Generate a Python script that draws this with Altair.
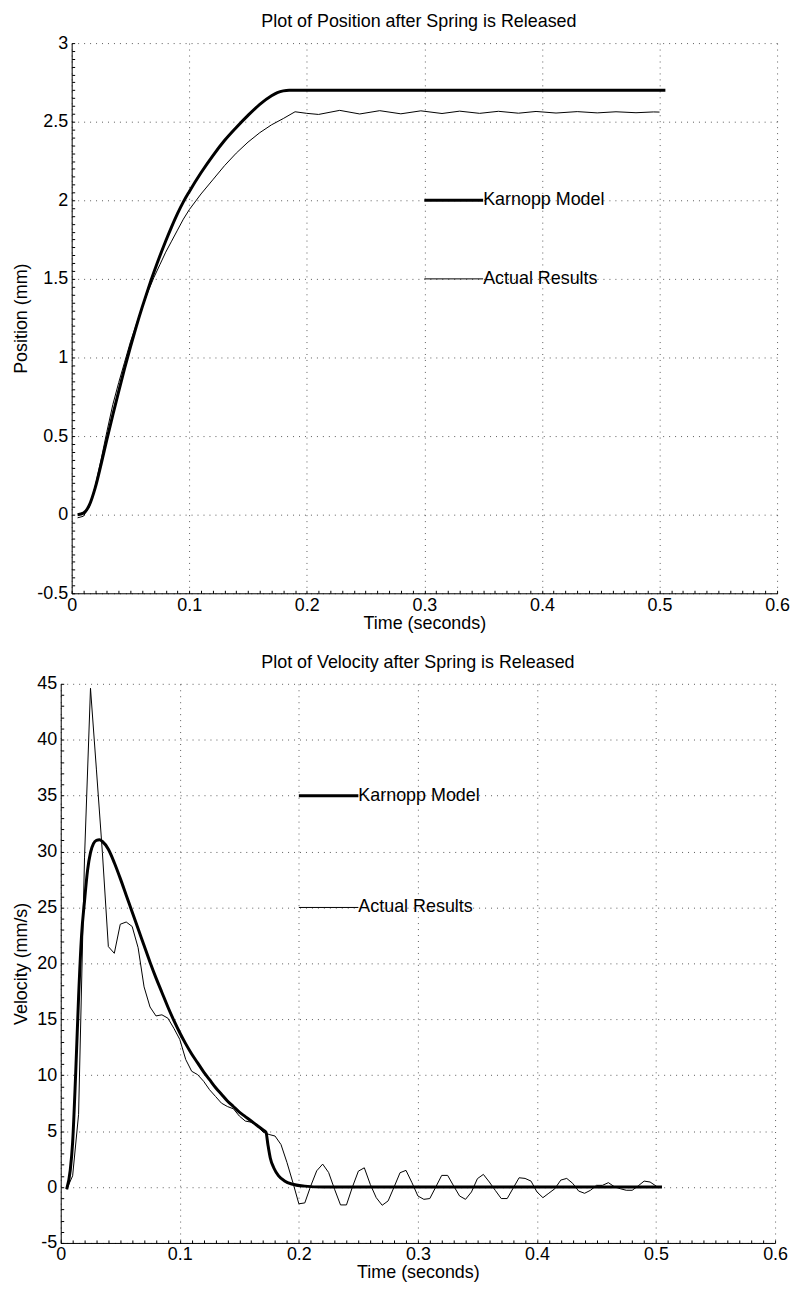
import altair as alt
import pandas as pd

FONT = "Liberation Sans"

# ---------------- data: position ----------------
pos_model_t = [0.005, 0.010, 0.015, 0.020, 0.025, 0.030, 0.035, 0.040, 0.045, 0.050,
               0.055, 0.060, 0.065, 0.070, 0.075, 0.080, 0.085, 0.090, 0.095, 0.100,
               0.110, 0.120, 0.130, 0.140, 0.150, 0.160, 0.170, 0.175, 0.180, 0.185,
               0.190, 0.505]
pos_model_v = [0.00, 0.01, 0.06, 0.17, 0.32, 0.48, 0.635, 0.785, 0.93, 1.068,
               1.198, 1.32, 1.435, 1.543, 1.645, 1.741, 1.831, 1.915, 1.99, 2.055,
               2.175, 2.283, 2.38, 2.463, 2.54, 2.61, 2.665, 2.685, 2.696, 2.70,
               2.70, 2.70]

pos_act_t = [0.005, 0.010, 0.015, 0.020, 0.025, 0.030, 0.035, 0.040, 0.045, 0.050,
             0.055, 0.060, 0.065, 0.070, 0.075, 0.080, 0.085, 0.090, 0.095, 0.100,
             0.110, 0.120, 0.130, 0.140, 0.150, 0.160, 0.170, 0.180, 0.190, 0.200,
             0.210, 0.228, 0.245, 0.262, 0.280, 0.297, 0.315, 0.330, 0.347, 0.363,
             0.380, 0.395, 0.412, 0.430, 0.447, 0.463, 0.480, 0.495, 0.500]
pos_act_v = [-0.02, -0.01, 0.05, 0.18, 0.35, 0.53, 0.70, 0.84, 0.97, 1.10,
             1.21, 1.32, 1.42, 1.51, 1.59, 1.67, 1.74, 1.81, 1.88, 1.94,
             2.04, 2.13, 2.22, 2.30, 2.37, 2.43, 2.48, 2.52, 2.563, 2.553,
             2.546, 2.572, 2.549, 2.570, 2.550, 2.569, 2.552, 2.567, 2.553, 2.566,
             2.554, 2.565, 2.555, 2.564, 2.556, 2.563, 2.557, 2.562, 2.561]

# ---------------- data: velocity ----------------
vel_model_t = [0.005, 0.008, 0.010, 0.0125, 0.015, 0.0175, 0.020, 0.0225, 0.025, 0.0275,
               0.030, 0.0325, 0.035, 0.040, 0.045, 0.050, 0.055, 0.060, 0.065, 0.070,
               0.075, 0.080, 0.085, 0.090, 0.095, 0.100, 0.105, 0.110, 0.115, 0.120,
               0.125, 0.130, 0.135, 0.140, 0.145, 0.150, 0.155, 0.160, 0.165, 0.170,
               0.1724, 0.174, 0.176, 0.179, 0.183, 0.188, 0.194, 0.205, 0.220, 0.505]
vel_model_v = [-0.2, 1.5, 4.0, 10.0, 17.0, 22.5, 25.6, 28.3, 29.9, 30.7,
               31.0, 31.05, 30.9, 30.2, 29.0, 27.6, 26.1, 24.6, 23.1, 21.6,
               20.1, 18.7, 17.4, 16.1, 14.9, 13.8, 12.8, 11.9, 11.1, 10.3,
               9.6, 8.9, 8.3, 7.7, 7.2, 6.7, 6.3, 5.9, 5.5, 5.1,
               4.9, 3.8, 2.6, 1.7, 1.0, 0.55, 0.27, 0.08, 0.0, 0.0]

vel_act_t = [0.005, 0.010, 0.015, 0.020, 0.025, 0.030, 0.035, 0.040, 0.045, 0.050,
             0.055, 0.060, 0.065, 0.070, 0.075, 0.080, 0.085, 0.090, 0.095, 0.100,
             0.105, 0.110, 0.115, 0.120, 0.125, 0.130, 0.135, 0.140, 0.145, 0.150,
             0.155, 0.160, 0.165, 0.170, 0.175, 0.180, 0.185, 0.190, 0.195, 0.200,
             0.205, 0.210, 0.215, 0.220, 0.225, 0.230, 0.235, 0.240, 0.245, 0.250,
             0.255, 0.260, 0.265, 0.270, 0.275, 0.280, 0.285, 0.290, 0.295, 0.300,
             0.305, 0.310, 0.315, 0.320, 0.325, 0.330, 0.335, 0.340, 0.345, 0.350,
             0.355, 0.360, 0.365, 0.370, 0.375, 0.380, 0.385, 0.390, 0.395, 0.400,
             0.405, 0.410, 0.415, 0.420, 0.425, 0.430, 0.435, 0.440, 0.445, 0.450,
             0.455, 0.460, 0.465, 0.470, 0.475, 0.480, 0.485, 0.490, 0.495, 0.500]
vel_act_v = [-0.2, 1.0, 6.5, 29.5, 44.6, 37.3, 29.9, 21.5, 20.9, 23.5,
             23.7, 23.3, 21.4, 17.9, 16.1, 15.3, 15.4, 15.1, 14.2, 13.2,
             11.4, 10.35, 10.05, 9.46, 8.7, 8.1, 7.5, 7.2, 7.0, 6.35,
             5.9, 5.8, 5.5, 4.9, 4.7, 4.56, 3.8, 2.2, 0.4, -1.5,
             -1.42, 0.1, 1.45, 2.05, 1.3, -0.2, -1.6, -1.6, 0.0, 1.42,
             1.72, 0.24, -0.95, -1.63, -1.24, 0.0, 1.28, 1.49, 0.39, -0.8,
             -1.1, -1.03, 0.0, 1.04, 1.04, 0.1, -0.8, -1.1, -0.44, 0.75,
             1.13, 0.45, -0.3, -1.03, -1.03, -0.1, 0.83, 0.77, 0.53, -0.44,
             -0.95, -0.55, -0.15, 0.62, 0.77, 0.33, -0.36, -0.56, -0.29, 0.15,
             0.15, 0.39, 0.03, -0.15, -0.29, -0.29, 0.1, 0.53, 0.45, 0.09]

# ---------------- ticks / labels ----------------
x_ticks = [0, 0.1, 0.2, 0.3, 0.4, 0.5, 0.6]
pos_ticks = [-0.5, 0, 0.5, 1, 1.5, 2, 2.5, 3]
vel_ticks = [-5, 0, 5, 10, 15, 20, 25, 30, 35, 40, 45]
x_minor = [round(i * 0.01, 3) for i in range(61)]
pos_minor = [round(-0.5 + i * 0.05, 3) for i in range(71)]
vel_minor = [round(-5 + i * 1.0, 3) for i in range(51)]

legend_names = ["Karnopp Model", "Actual Results"]
pos_legend_x = [0.30, 0.35]
pos_legend_y = [2.0, 1.5]
vel_legend_x = [0.20, 0.25]
vel_legend_y = [35, 25]

titles = ["Plot of Position after Spring is Released",
          "Plot of Velocity after Spring is Released"]
y_titles = ["Position (mm)", "Velocity (mm/s)"]
x_title = "Time (seconds)"

FS = 18
LBL = "'' + datum.value"


def panel(model_t, model_v, act_t, act_v, leg_x, leg_y, ydom, yticks, yminor,
          ytitle, title, width, height, xrange, yoff, ytitlepad):
    model = pd.DataFrame({"t": model_t, "v": model_v})
    act = pd.DataFrame({"t": act_t, "v": act_v})
    leg = pd.DataFrame({"x": [leg_x[0]] * 2, "x2": [leg_x[1]] * 2,
                        "y": leg_y, "name": legend_names, "w": [3, 1]})

    xs = alt.Scale(domain=[0, 0.6], range=xrange, nice=False, zero=False)
    ys = alt.Scale(domain=ydom, nice=False, zero=False)

    main_x = alt.Axis(values=x_ticks, labelExpr=LBL, title=x_title, grid=True,
                      ticks=False, domain=True, domainColor="black", domainWidth=1,
                      gridDash=[1, 5], gridColor="#333", gridWidth=1, gridOpacity=0.8,
                      labelFont=FONT, labelFontSize=FS, labelColor="black", labelPadding=3,
                      titleFont=FONT, titleFontSize=FS, titleFontWeight="normal",
                      titleColor="black", titlePadding=0, labelFlush=False)
    main_y = alt.Axis(values=yticks, labelExpr=LBL, title=ytitle, grid=True,
                      ticks=False, domain=True, domainColor="black", domainWidth=1,
                      gridDash=[1, 5], gridColor="#333", gridWidth=1, gridOpacity=0.8,
                      labelFont=FONT, labelFontSize=FS, labelColor="black", labelPadding=4,
                      titleFont=FONT, titleFontSize=FS, titleFontWeight="normal",
                      titleColor="black", titlePadding=ytitlepad, offset=yoff,
                      labelFlush=False)
    minor_x = alt.Axis(orient="top", offset=-height, values=x_minor, labels=False,
                       domain=False, grid=False, ticks=True, tickSize=3,
                       tickColor="black", tickWidth=1, title=None)
    minor_y = alt.Axis(orient="right", offset=-(width + yoff), values=yminor,
                       labels=False, domain=False, grid=False, ticks=True, tickSize=3,
                       tickColor="black", tickWidth=1, title=None)

    thick = alt.Chart(model).mark_line(color="black", strokeWidth=3,
                                       interpolate="monotone").encode(
        x=alt.X("t:Q", scale=xs, axis=main_x),
        y=alt.Y("v:Q", scale=ys, axis=main_y),
    )
    thin = alt.Chart(act).mark_line(color="black", strokeWidth=1).encode(
        x=alt.X("t:Q", scale=xs, axis=minor_x),
        y=alt.Y("v:Q", scale=ys, axis=minor_y),
    )
    rules = alt.Chart(leg).mark_rule(color="black").encode(
        x=alt.X("x:Q", scale=xs, axis=None),
        x2="x2:Q",
        y=alt.Y("y:Q", scale=ys, axis=None),
        strokeWidth=alt.StrokeWidth("w:Q", scale=None, legend=None),
    )
    texts = alt.Chart(leg).mark_text(align="left", baseline="middle", font=FONT,
                                     fontSize=FS, color="black").encode(
        x=alt.X("x2:Q", scale=xs, axis=None),
        y=alt.Y("y:Q", scale=ys, axis=None),
        text="name:N",
    )
    return alt.layer(thick, thin, rules, texts).resolve_axis(
        x="independent", y="independent"
    ).properties(
        width=width, height=height,
        title=alt.TitleParams(title, font=FONT, fontSize=FS, fontWeight="normal",
                              color="black", offset=3),
    )


top = panel(pos_model_t, pos_model_v, pos_act_t, pos_act_v, pos_legend_x, pos_legend_y,
            [-0.5, 3], pos_ticks, pos_minor, y_titles[0], titles[0],
            720, 553, [11, 720], -11, 6)
bottom = panel(vel_model_t, vel_model_v, vel_act_t, vel_act_v, vel_legend_x, vel_legend_y,
               [-5, 45], vel_ticks, vel_minor, y_titles[1], titles[1],
               718, 562, [0, 718], 0, 6)

chart = alt.vconcat(top, bottom, spacing=20).properties(
    autosize=alt.AutoSizeParams(type="none"),
    padding={"left": 53, "top": 32, "right": 733, "bottom": 1244},
    background="white",
).configure_view(stroke="transparent")

chart.save("out.html", embed_options={"renderer": "svg", "actions": False})
